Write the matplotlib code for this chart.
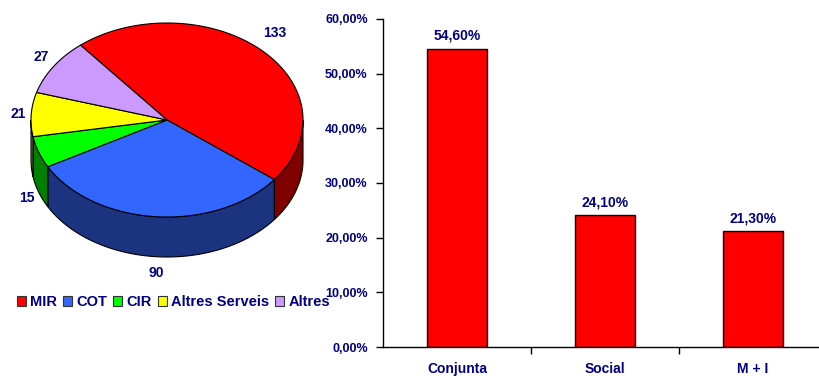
import numpy as np
import matplotlib
matplotlib.use("Agg")
import matplotlib.pyplot as plt
from matplotlib.patches import Polygon, Patch
from matplotlib.ticker import FuncFormatter, FixedLocator

plt.rcParams['font.family'] = ['Liberation Sans', 'DejaVu Sans']
plt.rcParams['font.weight'] = 'bold'

# Distribution by service (pie)
services = ["MIR", "COT", "CIR", "Altres Serveis", "Altres"]
counts = [133, 90, 15, 21, 27]
top_colors = ["#FF0000", "#3366FF", "#00FF00", "#FFFF00", "#CC99FF"]
side_colors = ["#800000", "#1C3380", "#008000", "#808000", "#664C80"]
count_label_pos = [(275, 33), (156, 273), (27, 198), (18, 114), (41, 57)]

# Share by type (bars)
groups = ["Conjunta", "Social", "M + I"]
shares = [0.546, 0.241, 0.213]

NAVY = "#000080"

fig = plt.figure(figsize=(8.2, 3.76), dpi=100)

# ---- 3D-looking pie, drawn in pixel-like coordinates ----
ax_pie = fig.add_axes([0, 0, 340 / 820, 1])
ax_pie.set_xlim(0, 340)
ax_pie.set_ylim(376, 0)
ax_pie.axis('off')

cx, cy, rx, ry, depth = 167, 120, 136, 97, 40
start = 129.5
total = sum(counts)
bounds = start - np.cumsum([0] + counts) / total * 360  # clockwise


def ellipse(t):
    t = np.radians(t)
    return cx + rx * np.cos(t), cy - ry * np.sin(t)


# visible side walls (front half of the ellipse)
for i in range(len(counts)):
    a0, a1 = bounds[i], bounds[i + 1]
    for k in (-1, 0, 1):
        lo, hi = max(a1, -180 + 360 * k), min(a0, 360 * k)
        if hi > lo:
            t = np.linspace(hi, lo, 80)
            x, y = ellipse(t)
            pts = np.column_stack([np.r_[x, x[::-1]], np.r_[y, y[::-1] + depth]])
            ax_pie.add_patch(Polygon(pts, closed=True, fc=side_colors[i],
                                     ec='black', lw=0.8, zorder=1))

# top faces
for i in range(len(counts)):
    t = np.linspace(bounds[i], bounds[i + 1], 120)
    x, y = ellipse(t)
    pts = np.column_stack([np.r_[cx, x], np.r_[cy, y]])
    ax_pie.add_patch(Polygon(pts, closed=True, fc=top_colors[i],
                             ec='black', lw=0.8, zorder=2))

for v, (lx, ly) in zip(counts, count_label_pos):
    ax_pie.text(lx, ly, str(v), ha='center', va='center', color=NAVY,
                fontsize=10, fontweight='bold')

handles = [Patch(fc=c, ec='#333333', lw=0.8) for c in top_colors]
fig.legend(handles, services, loc='center left',
           bbox_to_anchor=(17 / 820, 1 - 302 / 376), ncol=5, frameon=False,
           borderpad=0, borderaxespad=0, handlelength=0.62, handleheight=0.62,
           handletextpad=0.3, columnspacing=0.4,
           prop={'size': 10.5, 'weight': 'bold'}, labelcolor=NAVY)

# ---- bar chart ----
ax = fig.add_axes([383 / 820, 29 / 376, 444 / 820, 328 / 376])
x = np.arange(len(groups))
bars = ax.bar(x, shares, width=0.405, color="#FF0000", edgecolor='black', lw=1)
ax.set_xlim(-0.5, len(groups) - 0.5)
ax.set_ylim(0, 0.6)
ax.yaxis.set_major_locator(FixedLocator(np.arange(0, 0.61, 0.1)))
ax.yaxis.set_major_formatter(FuncFormatter(
    lambda v, p: f"{v * 100:.2f}%".replace('.', ',')))
ax.set_xticks(x)
ax.set_xticklabels(groups)
ax.set_xticks(np.arange(0.5, len(groups) - 0.5, 1), minor=True)
ax.tick_params(axis='x', which='major', length=0, pad=11, labelsize=10,
               labelcolor=NAVY)
ax.tick_params(axis='x', which='minor', length=5, direction='out', width=1)
ax.tick_params(axis='y', length=5, direction='out', width=1, pad=6,
               labelsize=9, labelcolor=NAVY)
for lab in ax.get_xticklabels() + ax.get_yticklabels():
    lab.set_fontweight('bold')
for s in ('top', 'right'):
    ax.spines[s].set_visible(False)
for s in ('left', 'bottom'):
    ax.spines[s].set_linewidth(1)

for b, v in zip(bars, shares):
    ax.annotate(f"{v * 100:.2f}%".replace('.', ','),
                (b.get_x() + b.get_width() / 2, v), xytext=(0, 4),
                textcoords='offset points', ha='center', va='bottom',
                color=NAVY, fontsize=10, fontweight='bold')

fig.savefig("out.png", dpi=100)
